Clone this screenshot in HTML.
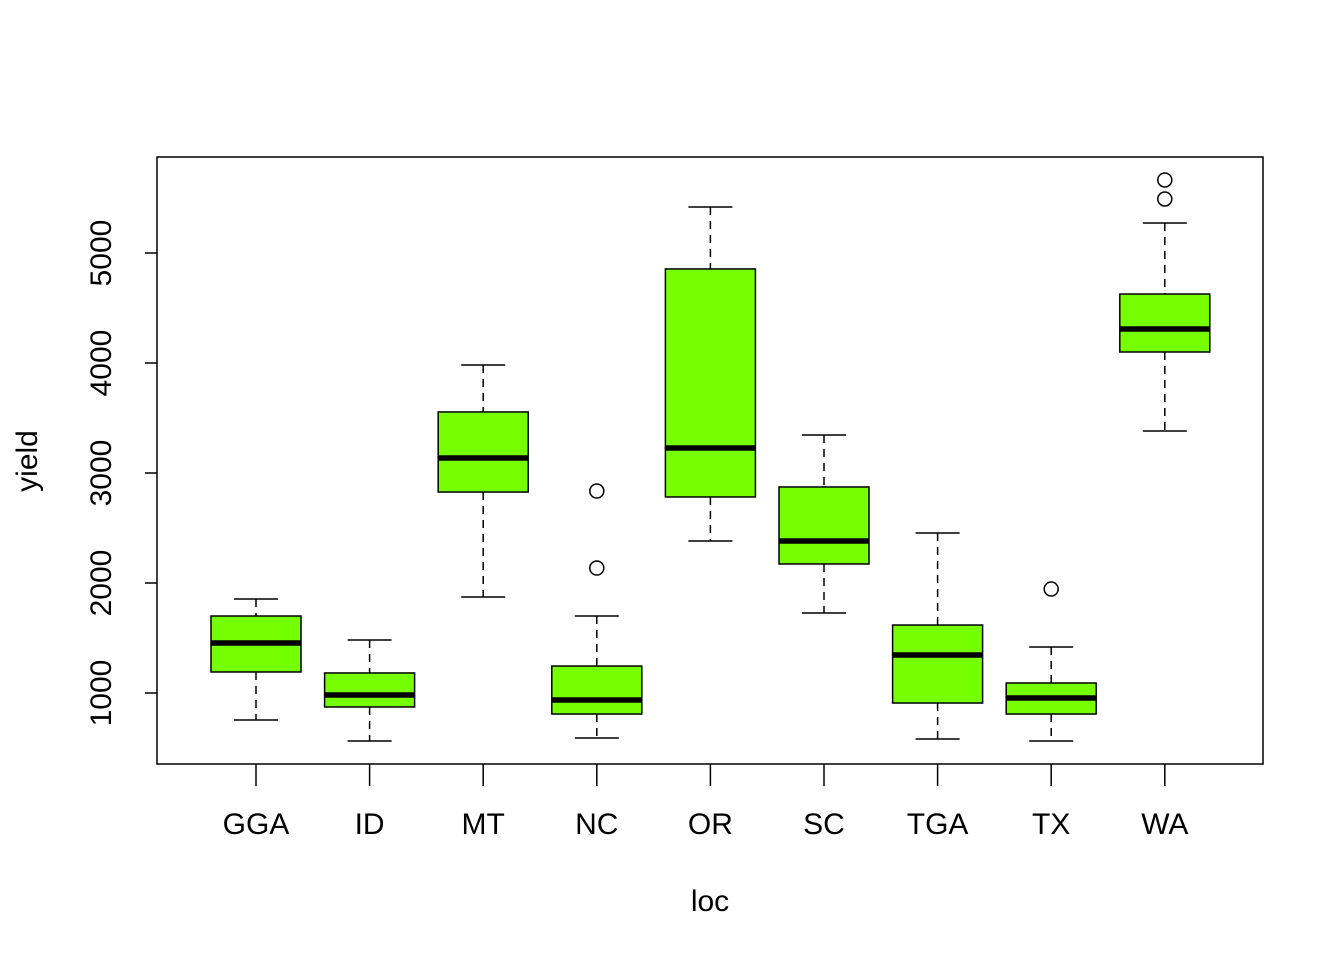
<!DOCTYPE html>
<html><head><meta charset="utf-8"><style>
html,body{margin:0;padding:0;background:#fff}
svg{display:block;font-family:"Liberation Sans",Arial,sans-serif}
</style></head><body>
<svg id="chart" width="1344" height="960">
<rect x="157" y="157" width="1106" height="607" fill="none" stroke="#000" stroke-width="1.5"/>
<g id="marks"></g>
<text x="710" y="911" font-size="30" text-anchor="middle">loc</text>
<text transform="translate(37,461) rotate(-90)" font-size="30" text-anchor="middle">yield</text>
</svg>
<script>
const categories = ["GGA","ID","MT","NC","OR","SC","TGA","TX","WA"];
const lowWhisker = [755,564,1873,591,2382,1727,582,564,3382];
const q1 = [1191,873,2827,809,2782,2173,909,809,4100];
const median = [1455,982,3136,936,3227,2382,1345,955,4309];
const q3 = [1700,1182,3555,1245,4855,2873,1618,1091,4627];
const highWhisker = [1855,1482,3982,1700,5418,3345,2455,1418,5273];
const outliers = [[],[],[],[2836,2136],[],[],[],[1945],[5664,5491]];
const yTicks = [1000,2000,3000,4000,5000];

const NS="http://www.w3.org/2000/svg";
const g=document.getElementById('marks');
const y=v=>693-(v-1000)*0.11;
const x=i=>256+i*113.6;
const hw=45;
function mk(tag,attrs,parent){const e=document.createElementNS(NS,tag);for(const k in attrs)e.setAttribute(k,attrs[k]);(parent||g).appendChild(e);return e;}

yTicks.forEach(t=>{
  const l=mk('line',{x1:145,x2:157,y1:y(t),y2:y(t),stroke:'#000','stroke-width':1.5});
  
  
  const tx=mk('text',{transform:`translate(111,${y(t)}) rotate(-90)`,'font-size':30,'text-anchor':'middle'});
  tx.textContent=t;
  
  
});

categories.forEach((c,i)=>{
  const cx=x(i);
  const tk=mk('line',{x1:cx,x2:cx,y1:764,y2:786,stroke:'#000','stroke-width':1.5});
  
  
  const lb=mk('text',{x:cx,y:834,'font-size':30,'text-anchor':'middle'});
  lb.textContent=c;
  
  
  const grp=mk('g',{});
  
  
  mk('line',{x1:cx,x2:cx,y1:y(highWhisker[i]),y2:y(q3[i]),stroke:'#000','stroke-width':1.5,'stroke-dasharray':'8,6'},grp);
  mk('line',{x1:cx,x2:cx,y1:y(q1[i]),y2:y(lowWhisker[i]),stroke:'#000','stroke-width':1.5,'stroke-dasharray':'8,6'},grp);
  mk('line',{x1:cx-22,x2:cx+22,y1:y(highWhisker[i]),y2:y(highWhisker[i]),stroke:'#000','stroke-width':1.5},grp);
  mk('line',{x1:cx-22,x2:cx+22,y1:y(lowWhisker[i]),y2:y(lowWhisker[i]),stroke:'#000','stroke-width':1.5},grp);
  mk('rect',{x:cx-hw,y:y(q3[i]),width:2*hw,height:y(q1[i])-y(q3[i]),fill:'#76ff00',stroke:'#000','stroke-width':1.5},grp);
  mk('line',{x1:cx-hw,x2:cx+hw,y1:y(median[i]),y2:y(median[i]),stroke:'#000','stroke-width':5.5},grp);
  outliers[i].forEach(o=>{
    const p=mk('circle',{cx:cx,cy:y(o),r:7,fill:'none',stroke:'#000','stroke-width':1.5},grp);
    
    
  });
});
</script>
</body></html>
